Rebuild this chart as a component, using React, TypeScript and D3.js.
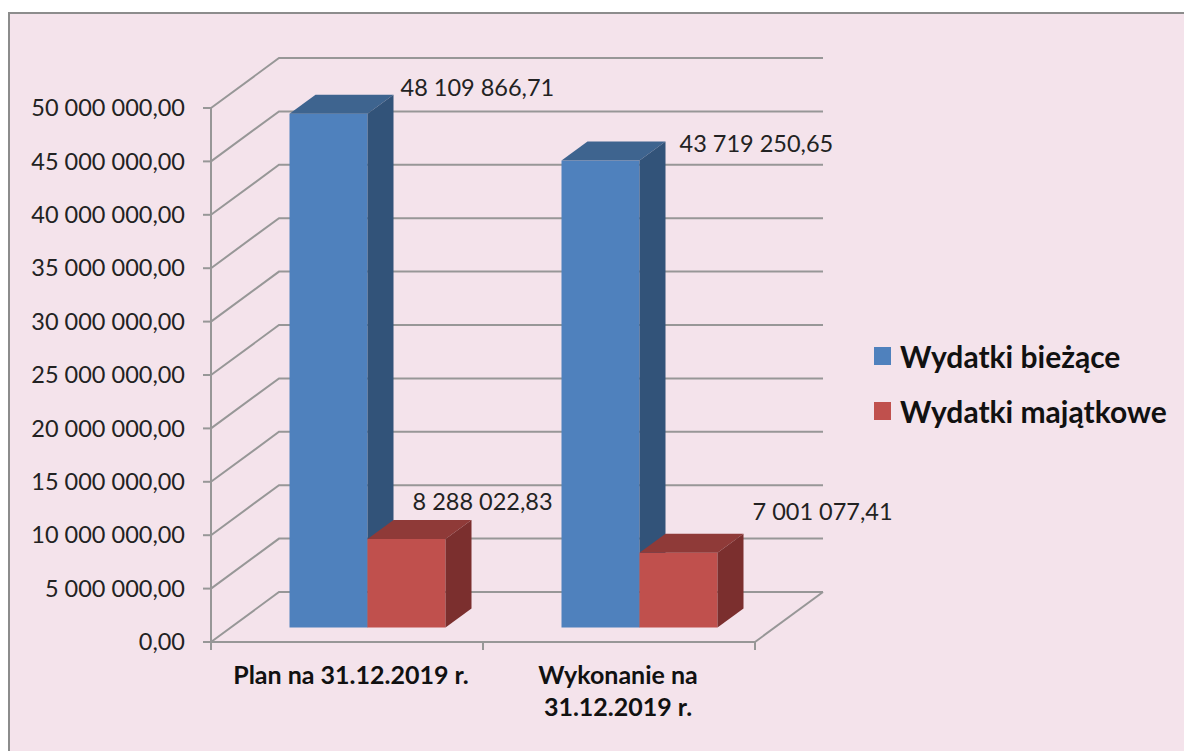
import React from "react";
import * as d3 from "d3";

const categories = ["Plan na 31.12.2019 r.", "Wykonanie na 31.12.2019 r."];
const categoryLines = [["Plan na 31.12.2019 r."], ["Wykonanie na", "31.12.2019 r."]];
const seriesNames = ["Wydatki bieżące", "Wydatki majątkowe"];
const biezace = [48109866.71, 43719250.65];
const majatkowe = [8288022.83, 7001077.41];
const yTicks = [0, 5e6, 10e6, 15e6, 20e6, 25e6, 30e6, 35e6, 40e6, 45e6, 50e6];

const faces = [
  { front: "#4f81bd", top: "#3e648f", side: "#325379" },
  { front: "#c0504d", top: "#8f3a38", side: "#7b2f2e" },
];

// where excel left the data labels, relative to the back top corner of each bar
const labelOffsets = [
  [[7, -7], [14, 2]],
  [[-59, -18], [9, -22]],
];

const W = 1184;
const H = 751;
const FONT = "Lato, 'Open Sans', sans-serif";
const GRID = "#979797";

// 3d projection of the chart box
const wallDx = 68;
const wallDy = -50;
const barDx = 26;
const barDy = -19;
const floorLift = 14.5;

const x = d3.scaleBand().domain(categories).range([211, 755]);
const y = d3.scaleLinear().domain([0, 50000000]).range([642, 108]);
const inner = d3.scaleBand().domain(seriesNames).range([0, 156]);

const fmt = d3.formatLocale({
  decimal: ",",
  thousands: " ",
  grouping: [3],
  currency: ["", ""],
}).format(",.2f");

const poly = (pts: number[][]) => pts.map((p) => p.join(",")).join(" ");

function Bar({ cat, name, value, s, c }: any) {
  const x0 = (x(cat) as number) + x.bandwidth() / 2 - 57.5 + (inner(name) as number);
  const x1 = x0 + inner.bandwidth();
  const yb = y(0) - floorLift;
  const yt = y(value) - floorLift;
  const [ox, oy] = labelOffsets[s][c];
  return (
    <g>
      <rect x={x0} y={yt} width={x1 - x0} height={yb - yt} fill={faces[s].front} />
      <polygon
        points={poly([[x0, yt], [x1, yt], [x1 + barDx, yt + barDy], [x0 + barDx, yt + barDy]])}
        fill={faces[s].top}
      />
      <polygon
        points={poly([[x1, yt], [x1 + barDx, yt + barDy], [x1 + barDx, yb + barDy], [x1, yb]])}
        fill={faces[s].side}
      />
      <text
        x={x1 + barDx + ox}
        y={yt + barDy + oy}
        dy="0.35em"
        fontSize={23.5}
        fill="#222"
      >
        {fmt(value)}
      </text>
    </g>
  );
}

export default function App() {
  const right = x.range()[1];
  const left = x.range()[0];
  return (
    <svg
      width={W}
      height={H}
      fontFamily={FONT}
      style={{ position: "absolute", left: 0, top: 0, display: "block" }}
    >
      <rect x={9} y={13} width={W} height={H} fill="#f4e3eb" stroke="#8c8c8c" strokeWidth={2} />

      {/* walls */}
      {yTicks.map((t) => (
        <polyline
          key={t}
          points={poly([[left, y(t)], [left + wallDx, y(t) + wallDy], [right + wallDx, y(t) + wallDy]])}
          fill="none"
          stroke={GRID}
          strokeWidth={2}
        />
      ))}
      <line
        x1={right}
        y1={y(0)}
        x2={right + wallDx}
        y2={y(0) + wallDy}
        stroke={GRID}
        strokeWidth={2}
      />

      {/* axes */}
      <line x1={left} y1={y(50000000) - 1} x2={left} y2={y(0) + 8} stroke={GRID} strokeWidth={2} />
      <line x1={left - 8} y1={y(0)} x2={right} y2={y(0)} stroke={GRID} strokeWidth={2} />
      {yTicks.map((t) => (
        <g key={t}>
          <line x1={left - 8} y1={y(t)} x2={left} y2={y(t)} stroke={GRID} strokeWidth={2} />
          <text x={left - 26} y={y(t)} dy="0.35em" textAnchor="end" fontSize={23.5} fill="#222">
            {fmt(t)}
          </text>
        </g>
      ))}
      {categories.map((c, i) => (
        <g key={c}>
          <line
            x1={(x(c) as number) + x.bandwidth()}
            y1={y(0)}
            x2={(x(c) as number) + x.bandwidth()}
            y2={y(0) + 8}
            stroke={GRID}
            strokeWidth={2}
          />
          {categoryLines[i].map((l, j) => (
            <text
              key={l}
              x={(x(c) as number) + x.bandwidth() / 2 + (i === 0 ? 4 : -1)}
              y={675 + j * 32}
              dy="0.35em"
              textAnchor="middle"
              fontSize={25}
              fontWeight={700}
              fill="#111"
            >
              {l}
            </text>
          ))}
        </g>
      ))}

      {/* bars, blue first so the red one sits in front of its side */}
      {categories.map((c, i) => (
        <g key={c}>
          <Bar cat={c} name={seriesNames[0]} value={biezace[i]} s={0} c={i} />
          <Bar cat={c} name={seriesNames[1]} value={majatkowe[i]} s={1} c={i} />
        </g>
      ))}

      {/* legend */}
      {seriesNames.map((n, i) => (
        <g key={n} transform={`translate(874,${347 + i * 55})`}>
          <rect width={17} height={18} fill={faces[i].front} />
          <text x={26} y={10} dy="0.35em" fontSize={30} fontWeight={700} fill="#111">
            {n}
          </text>
        </g>
      ))}
    </svg>
  );
}
